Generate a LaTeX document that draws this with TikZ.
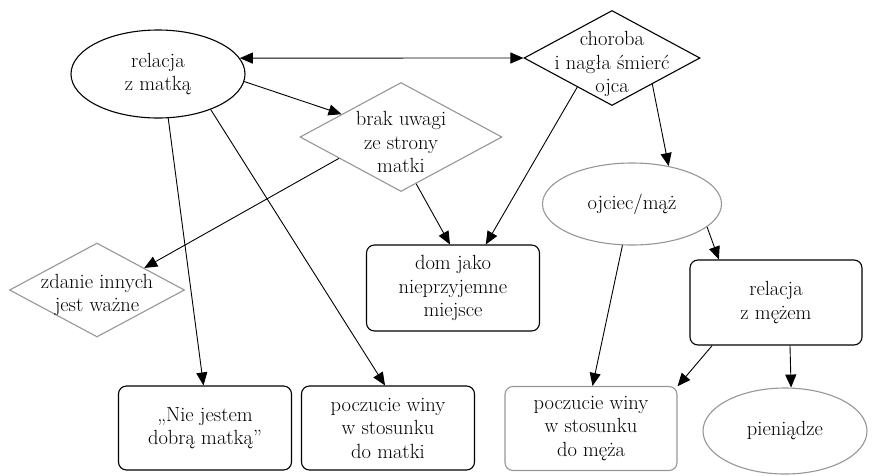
\documentclass[tikz,border=0pt]{standalone}
\usetikzlibrary{shapes.geometric,arrows.meta}
\definecolor{softgray}{RGB}{150,150,150}
\begin{document}
\begin{tikzpicture}[x=1pt,y=-1pt,
  font=\fontsize{20.5}{23.5}\selectfont,
  every node/.style={align=center, inner sep=0pt, line width=1.1pt},
  box/.style={draw=black, rounded corners=8pt, minimum width=173pt, minimum height=84pt},
  graybox/.style={box, draw=softgray},
  oval/.style={ellipse, draw=black},
  grayoval/.style={ellipse, draw=softgray},
  dia/.style={diamond, draw=black},
  graydia/.style={diamond, draw=softgray},
  link/.style={-{Triangle[length=13pt,width=11pt]}, line width=0.9pt},
  biglink/.style={{Triangle[length=13pt,width=11pt]}-{Triangle[length=13pt,width=11pt]}, line width=0.9pt},
]
\useasboundingbox (0,0) rectangle (876,475);

% upper row
\node[oval, minimum width=174pt, minimum height=88pt] (rm) at (158,74) {relacja\\z matką};
\node[dia, minimum width=176pt, minimum height=95pt,
      label={[yshift=-6pt]center:choroba\\i nagła śmierć\\ojca}] (ch) at (612,58) {};
\node[graydia, minimum width=202pt, minimum height=109pt,
      label={[yshift=-5pt]center:brak uwagi\\ze strony\\matki}] (bu) at (401,137) {};

% middle row
\node[graydia, minimum width=175pt, minimum height=94pt,
      label={[yshift=-5pt]center:zdanie innych\\jest ważne}] (zd) at (97,290) {};
\node[box, minimum height=86pt] (dom) at (453,288) {dom jako\\nieprzyjemne\\miejsce};
\node[grayoval, minimum width=179pt, minimum height=82pt] (oj) at (632,204) {ojciec/mąż};
\node[box, minimum width=172pt, minimum height=85pt] (rmz) at (776,302.5) {relacja\\z mężem};

% bottom row
\node[box] (nj) at (205,428) {„Nie jestem\\dobrą matką”};
\node[box] (pwm) at (388,428) {poczucie winy\\w stosunku\\do matki};
\node[graybox, minimum width=172pt] (pwz) at (591,428.5) {poczucie winy\\w stosunku\\do męża};
\node[grayoval, minimum width=164pt, minimum height=86pt] (pn) at (785,431) {pieniądze};

% connectors
\draw[biglink] (rm.11) -- (ch.west);
\draw[link] (rm.-5) -- (bu.159);
\draw[link] (rm.-77) -- (nj.92);
\draw[link] (rm.-34) -- (pwm.94);
\draw[link] (bu.199) -- (zd.25);
\draw[link] (bu.-72) -- (dom.94);
\draw[link] (ch.-140) -- (dom.53);
\draw[link] (ch.-33) -- (oj.46);
\draw[link] (oj.-17.5) -- (rmz.143);
\draw[link] (oj.-103) -- (pwz.88);
\draw[link] (rmz.-146) -- (pwz.26);
\draw[link] (rmz.-72) -- (pn.82);
\end{tikzpicture}
\end{document}
